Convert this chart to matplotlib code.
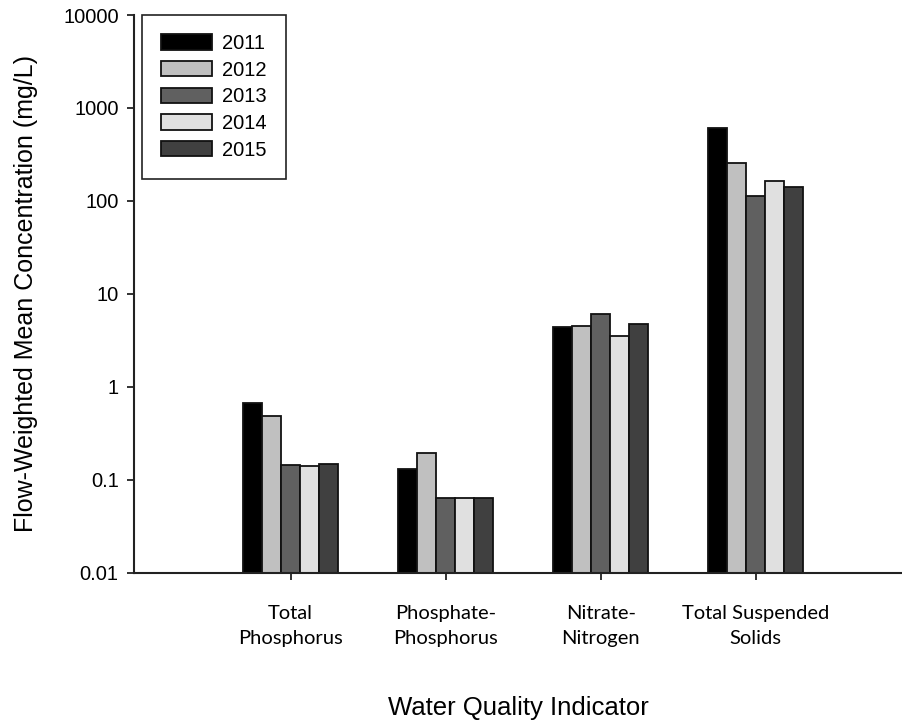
import numpy as np
import matplotlib.pyplot as plt
from matplotlib.ticker import FixedLocator, FixedFormatter, NullLocator

plt.rcParams['font.family'] = ['Liberation Sans', 'DejaVu Sans']

# Flow-weighted mean concentrations (mg/L) by indicator and year
indicators = ['Total\nPhosphorus', 'Phosphate-\nPhosphorus', 'Nitrate-\nNitrogen', 'Total Suspended\nSolids']
years = ['2011', '2012', '2013', '2014', '2015']
conc_2011 = [0.675, 0.130, 4.37, 614]
conc_2012 = [0.49, 0.193, 4.54, 258]
conc_2013 = [0.144, 0.064, 6.12, 113]
conc_2014 = [0.140, 0.064, 3.55, 165]
conc_2015 = [0.148, 0.064, 4.74, 141]
series = [conc_2011, conc_2012, conc_2013, conc_2014, conc_2015]
colors = ['#000000', '#c0c0c0', '#606060', '#e0e0e0', '#404040']

yticks = [0.01, 0.1, 1, 10, 100, 1000, 10000]
ytick_labels = ['0.01', '0.1', '1', '10', '100', '1000', '10000']

fig = plt.figure(figsize=(9.03, 7.25), dpi=100)
ax = fig.add_axes([0.1484, 0.2101, 0.8516, 0.7692])
ax.set_yscale('log')

x = np.arange(len(indicators))
width = 0.122
for i, (vals, yr, c) in enumerate(zip(series, years, colors)):
    ax.bar(x + (i - 2) * width, vals, width, color=c,
           edgecolor='#111111', linewidth=1.3, label=yr)

ax.set_ylim(0.01, 10000)
ax.set_xlim(-1.01, 3.95)
ax.yaxis.set_major_locator(FixedLocator(yticks))
ax.yaxis.set_major_formatter(FixedFormatter(ytick_labels))
ax.yaxis.set_minor_locator(NullLocator())

ax.set_xticks(x)
ax.set_xticklabels(indicators, family='Lato', fontsize=14.5, linespacing=1.6)

for s in ['top', 'right']:
    ax.spines[s].set_visible(False)
for s in ['left', 'bottom']:
    ax.spines[s].set_color('#222222')
    ax.spines[s].set_linewidth(1.5)

ax.tick_params(axis='y', direction='out', length=5, width=1.3, color='#222222',
               labelsize=14.5, pad=6)
ax.tick_params(axis='x', direction='out', length=5, width=1.3, color='#222222',
               pad=18)

ax.set_ylabel('Flow-Weighted Mean Concentration (mg/L)', fontsize=18)
ax.yaxis.set_label_coords(-0.125, 0.5)
ax.set_xlabel('Water Quality Indicator', fontsize=18.5)
ax.xaxis.set_label_coords(0.5, -0.222)

leg = ax.legend(loc='upper left', bbox_to_anchor=(0.0108, 1.0), borderaxespad=0,
                fancybox=False, edgecolor='#222222', framealpha=1,
                prop={'size': 14.5},
                handlelength=2.5, handleheight=0.8, labelspacing=0.38,
                handletextpad=0.5, borderpad=0.95)
leg.get_frame().set_linewidth(1.2)

fig.savefig('out.png', dpi=100)
